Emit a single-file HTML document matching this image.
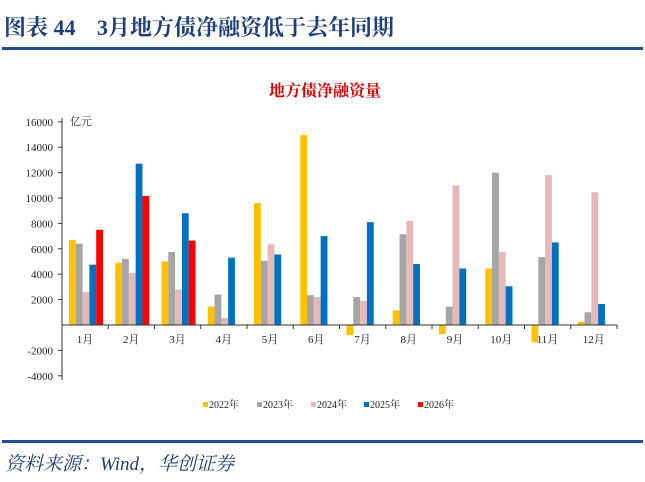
<!DOCTYPE html>
<html><head><meta charset="utf-8"><style>
body{margin:0;background:#fff;width:645px;height:477px;overflow:hidden;font-family:"Liberation Serif","Noto Serif CJK SC",serif;}
</style></head><body>
<svg width="645" height="477" xmlns="http://www.w3.org/2000/svg">
<text x="4" y="35" font-size="22" font-weight="bold" fill="#1F3F7A" font-family="Liberation Serif,Noto Serif CJK SC,serif">图表 44</text>
<text x="97" y="35" font-size="22" font-weight="bold" fill="#1F3F7A" font-family="Liberation Serif,Noto Serif CJK SC,serif">3月地方债净融资低于去年同期</text>
<rect x="2" y="47" width="641" height="3" fill="#1F4E8C"/>
<text x="325" y="96" font-size="16" font-weight="bold" fill="#E00000" text-anchor="middle" font-family="Noto Serif CJK SC,serif">地方债净融资量</text>
<text x="70" y="125" font-size="11" fill="#333" font-family="Noto Serif CJK SC,serif">亿元</text>
<g id="bars"></g>
<line x1="62" y1="118" x2="62" y2="380" stroke="#333" stroke-width="1"/>
<g font-size="11" fill="#222" text-anchor="end" font-family="Liberation Serif,serif" id="yl"></g>
<line x1="62" y1="325" x2="617" y2="325" stroke="#333" stroke-width="1"/>
<g font-size="11" fill="#222" text-anchor="middle" id="xl" font-family="Liberation Serif,Noto Serif CJK SC,serif"></g>
<g font-size="10" fill="#222" font-family="Liberation Serif,Noto Serif CJK SC,serif">
<rect x="203" y="402" width="5" height="5" fill="#FFC000"/><text x="209" y="408">2022年</text>
<rect x="257" y="402" width="5" height="5" fill="#A5A5A5"/><text x="263" y="408">2023年</text>
<rect x="311" y="402" width="5" height="5" fill="#E6B9B8"/><text x="317" y="408">2024年</text>
<rect x="364" y="402" width="5" height="5" fill="#0070C0"/><text x="370" y="408">2025年</text>
<rect x="418" y="402" width="5" height="5" fill="#FF0000"/><text x="424" y="408">2026年</text>
</g>
<rect x="2" y="440" width="641" height="3" fill="#1F4E8C"/>
<text x="5" y="470" font-size="19" font-style="italic" fill="#1F3F7A" font-family="Liberation Serif,Noto Serif CJK SC,serif">资料来源：Wind，华创证券</text>
</svg>
<script>
const d=[[6700,6400,2600,4750,7500],[4900,5200,4100,12700,10150],[5000,5750,2800,8800,6650],[1450,2400,550,5300],[9600,5050,6350,5550],[14950,2350,2200,7000],[-800,2200,1900,8100],[1150,7150,8200,4800],[-700,1450,11000,4450],[4450,12000,5750,3050],[-1350,5350,11800,6500],[250,1000,10450,1650]];
const c=["#FFC000","#A5A5A5","#E6B9B8","#0070C0","#FF0000"];
const ns="http://www.w3.org/2000/svg";
const Y=v=>325-v*25.4/2000;
const b=document.getElementById("bars"),yl=document.getElementById("yl"),xl=document.getElementById("xl");
d.forEach((g,i)=>{g.forEach((v,j)=>{const r=document.createElementNS(ns,"rect");const x=62+46.25*i+7+j*6.8;r.setAttribute("x",x);r.setAttribute("width",6.8);r.setAttribute("y",Math.min(Y(v),325));r.setAttribute("height",Math.abs(Y(v)-325));r.setAttribute("fill",c[j]);b.appendChild(r);});
const t=document.createElementNS(ns,"text");t.setAttribute("x",62+46.25*i+23);t.setAttribute("y",343);t.textContent=(i+1)+"月";xl.appendChild(t);
const l=document.createElementNS(ns,"line");const lx=62+46.25*(i+1);l.setAttribute("x1",lx);l.setAttribute("x2",lx);l.setAttribute("y1",325);l.setAttribute("y2",329);l.setAttribute("stroke","#333");xl.appendChild(l);});
for(let v=-4000;v<=16000;v+=2000){if(v==0)continue;const t=document.createElementNS(ns,"text");t.setAttribute("x",53);t.setAttribute("y",Y(v)+4);t.textContent=v;yl.appendChild(t);const l=document.createElementNS(ns,"line");l.setAttribute("x1",58);l.setAttribute("x2",62);l.setAttribute("y1",Y(v));l.setAttribute("y2",Y(v));l.setAttribute("stroke","#333");yl.appendChild(l);}
</script>
</body></html>
